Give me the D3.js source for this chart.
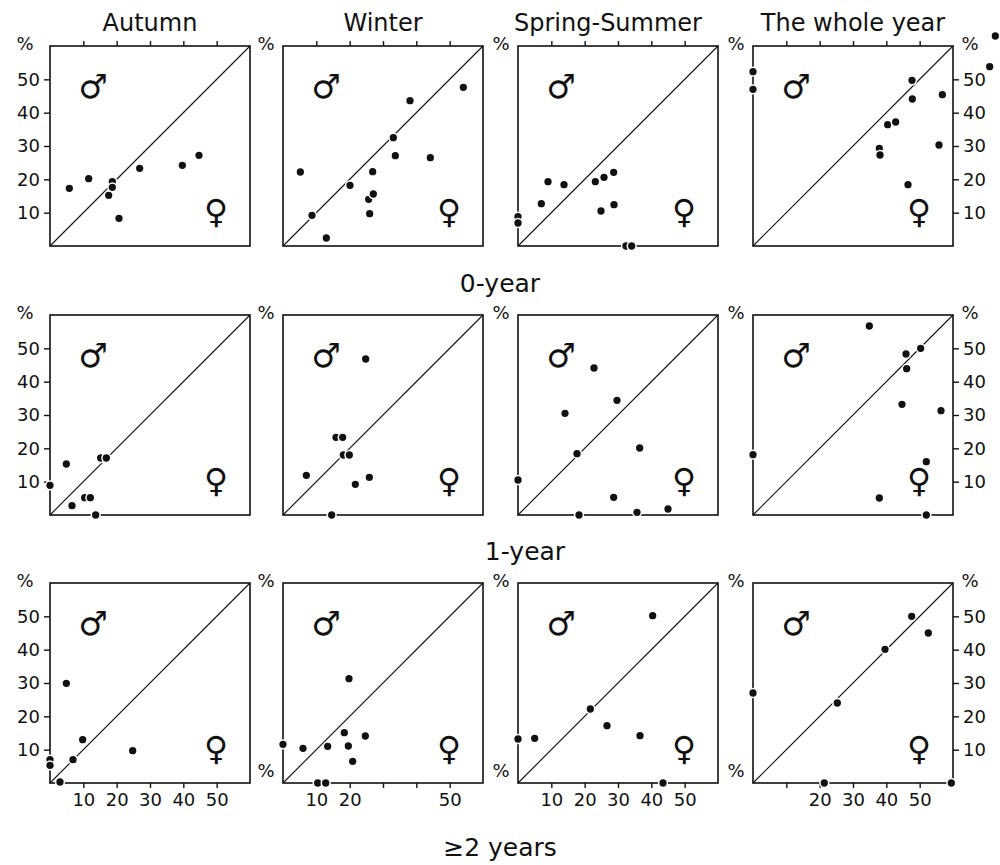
<!DOCTYPE html>
<html>
<meta charset="utf-8">
<style>
body { margin: 0; background: #fff; }
svg text { font-family: "DejaVu Sans", sans-serif; fill: #111; }
.frame { fill: none; stroke: #111; stroke-width: 1.6; }
.diag { stroke: #111; stroke-width: 1.1; }
.axis .domain { display: none; }
.axis line { stroke: #111; stroke-width: 1.4; }
.axis text { font-size: 18px; font-family: "DejaVu Sans", sans-serif; fill: #111; }
</style>
<body>
<svg width="1000" height="865"></svg>
<script src="https://cdn.jsdelivr.net/npm/d3@7"></script>
<script>

var seasons = ["Autumn", "Winter", "Spring-Summer", "The whole year"];
var ages = ["0-year", "1-year", "\u22652 years"];
var percentTicks = [10, 20, 30, 40, 50];
var bottomLabels = [[10, 20, 30, 40, 50], [10, 20, 50], [10, 20, 30, 40, 50], [20, 30, 40, 50]];

// [x %, y %] per panel
var y0Autumn = [[5.8,17.3],[11.6,20.2],[18.7,19.3],[18.7,17.6],[17.6,15.2],[20.7,8.3],[26.9,23.3],[39.7,24.2],[44.7,27.2]];
var y0Winter = [[5.2,22.2],[8.7,9.2],[13.0,2.4],[20.1,18.2],[25.7,14.0],[27.1,15.6],[26.9,22.3],[26.0,9.7],[33.1,32.5],[33.7,27.1],[38.1,43.6],[44.2,26.5],[54.1,47.6]];
var y0Spring = [[0,8.8],[0,6.9],[7.0,12.7],[9.0,19.3],[13.8,18.4],[23.2,19.3],[25.8,20.6],[28.7,22.1],[24.9,10.5],[28.8,12.4],[32.4,0],[34.1,0]];
var y0Year = [[0,52.3],[0,47.0],[47.7,49.7],[47.8,44.1],[40.4,36.4],[42.8,37.2],[37.9,29.3],[38.1,27.3],[46.5,18.4],[55.8,30.3],[56.8,45.4],[72.7,63],[71.0,53.8]];

var y1Autumn = [[0,8.9],[4.9,15.3],[6.6,2.8],[10.4,5.2],[12.1,5.2],[13.7,0],[15.2,17.1],[16.9,17.1]];
var y1Winter = [[24.8,46.8],[15.9,23.3],[17.9,23.3],[18.1,18.0],[19.9,18.0],[7.0,11.9],[21.7,9.2],[25.9,11.3],[14.6,0]];
var y1Spring = [[22.8,44.1],[29.7,34.4],[14.1,30.5],[17.7,18.4],[36.5,20.1],[0,10.5],[28.7,5.3],[18.3,0],[35.7,0.8],[45,1.8]];
var y1Year = [[34.9,56.7],[45.9,48.3],[50.3,50.0],[46.1,43.9],[44.7,33.2],[56.4,31.3],[0,18.1],[52.0,16.0],[37.9,5.1],[52,0]];

var y2Autumn = [[4.9,29.9],[9.8,13.0],[6.9,7.0],[24.8,9.7],[0,7.0],[0,5.3],[3,0.3]];
var y2Winter = [[19.8,31.3],[18.4,15.1],[24.7,14.1],[0,11.6],[6.0,10.4],[13.4,11.0],[19.6,11.1],[20.9,6.5],[10.4,0],[12.8,0]];
var y2Spring = [[40.4,50.2],[21.7,22.2],[26.7,17.2],[36.6,14.2],[0,13.2],[5.0,13.4],[43.5,0]];
var y2Year = [[47.6,50.0],[52.6,45.0],[39.6,40.1],[25.3,24.0],[0,27.0],[21.4,0],[59.5,0]];

var panels = [
  [y0Autumn, y0Winter, y0Spring, y0Year],
  [y1Autumn, y1Winter, y1Spring, y1Year],
  [y2Autumn, y2Winter, y2Spring, y2Year]
];

var svg = d3.select("svg");
var size = 200;
var colLeft = [50, 283, 518, 753],
    rowTop = [46, 315, 583];

var x = d3.scaleLinear().domain([0, 60]).range([0, size]);
var y = d3.scaleLinear().domain([0, 60]).range([size, 0]);

// column titles
svg.selectAll(".title")
    .data(seasons)
  .enter().append("text")
    .attr("class", "title")
    .attr("x", function(d, i) { return colLeft[i] + size / 2 - (i == 2 ? 10 : 0); })
    .attr("y", 31)
    .attr("text-anchor", "middle")
    .style("font-size", "24px")
    .text(function(d) { return d; });

// row labels under each row
var ageX = [500, 525, 500], ageY = [292, 560, 856];
svg.selectAll(".age")
    .data(ages)
  .enter().append("text")
    .attr("class", "age")
    .attr("x", function(d, i) { return ageX[i]; })
    .attr("y", function(d, i) { return ageY[i]; })
    .attr("text-anchor", "middle")
    .style("font-size", "25px")
    .text(function(d) { return d; });

panels.forEach(function(row, r) {
  row.forEach(function(pts, c) {
    var g = svg.append("g")
        .attr("transform", "translate(" + colLeft[c] + "," + rowTop[r] + ")");

    if (r == 0) {
      g.append("g").attr("class", "axis")
          .call(d3.axisTop(x).tickValues(percentTicks).tickSize(5).tickFormat(""));
    }
    if (r == 2) {
      g.append("g").attr("class", "axis")
          .attr("transform", "translate(0," + size + ")")
          .call(d3.axisBottom(x).tickValues(percentTicks).tickSize(5).tickPadding(5)
            .tickFormat(function(d) { return bottomLabels[c].indexOf(d) >= 0 ? d : ""; }));
    }
    if (c == 0) {
      g.append("g").attr("class", "axis")
          .call(d3.axisLeft(y).tickValues(percentTicks).tickSize(6).tickPadding(4));
    }
    if (c == 3) {
      g.append("g").attr("class", "axis")
          .attr("transform", "translate(" + size + ",0)")
          .call(d3.axisRight(y).tickValues(percentTicks).tickSize(6).tickPadding(4));
      g.append("text")
          .attr("x", size + 17)
          .attr("y", 4)
          .attr("text-anchor", "middle")
          .style("font-size", "18px")
          .text("%");
    }

    // % unit labels
    g.append("text")
        .attr("x", c == 0 ? -25 : -17)
        .attr("y", 4)
        .attr("text-anchor", "middle")
        .style("font-size", "18px")
        .text("%");
    if (r == 2 && c > 0) {
      g.append("text")
          .attr("x", -17)
          .attr("y", size - 6)
          .attr("text-anchor", "middle")
          .style("font-size", "18px")
          .text("%");
    }

    g.append("rect")
        .attr("class", "frame")
        .attr("width", size)
        .attr("height", size);

    g.append("line")
        .attr("class", "diag")
        .attr("x1", x(0)).attr("y1", y(0))
        .attr("x2", x(60)).attr("y2", y(60));

    g.append("text")
        .attr("x", 43).attr("y", 40)
        .attr("text-anchor", "middle")
        .attr("dominant-baseline", "central")
        .style("font-size", "33px")
        .text("\u2642");
    g.append("text")
        .attr("x", 166).attr("y", 165)
        .attr("text-anchor", "middle")
        .attr("dominant-baseline", "central")
        .style("font-size", "33px")
        .text("\u2640");

    g.selectAll("circle")
        .data(pts)
      .enter().append("circle")
        .attr("cx", function(d) { return x(d[0]); })
        .attr("cy", function(d) { return y(d[1]); })
        .attr("r", 4.4)
        .attr("fill", "#111")
        .attr("stroke", "#fff")
        .attr("stroke-width", 1.5);
  });
});

</script>
</body>
</html>
